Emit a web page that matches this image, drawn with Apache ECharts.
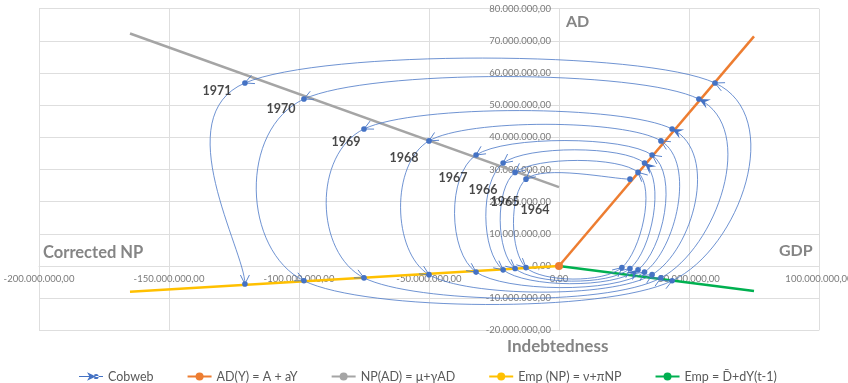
<!DOCTYPE html>
<html>
<head>
<meta charset="utf-8">
<script src="https://cdn.jsdelivr.net/npm/echarts@6/dist/echarts.min.js"></script>
<style>
  html, body { margin: 0; padding: 0; background: #ffffff; }
  #chart { width: 848px; height: 383px; }
</style>
</head>
<body>
<div id="chart"></div>
<script>
// ---- Data (values in currency units) ----
var years = [1964, 1965, 1966, 1967, 1968, 1969, 1970, 1971];
// GDP (Y) of each year, on the AD(Y) line
var gdp = [27.3e6, 30.4e6, 32.9e6, 35.8e6, 39.2e6, 43.5e6, 53.8e6, 60.0e6];
// Aggregate demand of each year
var ad = [27.0e6, 29.1e6, 32.0e6, 34.5e6, 38.9e6, 42.6e6, 51.9e6, 56.9e6];
// Corrected net position of each year
var np = [-12.7e6, -16.9e6, -21.5e6, -31.9e6, -50.0e6, -75.0e6, -98.1e6, -120.8e6];
// Indebtedness (Emp) of each year
var emp = [-0.5e6, -0.8e6, -1.2e6, -1.9e6, -2.7e6, -3.7e6, -4.6e6, -5.6e6];
// Previous-year GDP, Y(t-1), for 1964..1970
var gdpPrev = [24.2e6, 27.3e6, 30.4e6, 32.9e6, 35.8e6, 39.2e6, 43.5e6];

// Reference lines (two end points each)
var adLineY = [0, 75e6], adLineAD = [0, 71.4e6];
var npLineNP = [-165e6, 0], npLineAD = [72.3e6, 24.5e6];
var empNpLineNP = [-165e6, 0], empNpLineEmp = [-8.0e6, 0];
var empYLineY = [0, 75e6], empYLineEmp = [0, -7.8e6];

var xTicks = { min: -200e6, max: 100e6, step: 50e6 };
var yTicks = { min: -20e6, max: 80e6, step: 10e6 };

// ---- Cobweb path: AD(t) -> NP(t) -> Emp(t) -> [Y(t-1), Emp(t)] -> AD(t+1) ...
var path = [];
for (var t = 0; t < years.length; t++) {
  path.push([gdp[t], ad[t]]);
  path.push([np[t], ad[t]]);
  path.push([np[t], emp[t]]);
  if (t < gdpPrev.length) path.push([gdpPrev[t], emp[t]]);
}
// path indices whose incoming arrow is drawn as a filled head
var filledHeads = { 8: true, 11: true, 20: true, 24: true };

var BLUE = '#4472C4';
var CURVE = '#4a77c6';

function fmtNum(v) {
  var s = Math.abs(Math.round(v)).toString().replace(/\B(?=(\d{3})+(?!\d))/g, '.');
  return (v < 0 ? '-' : '') + s + ',00';
}

function pairs(xs, ys) {
  var out = [];
  for (var i = 0; i < xs.length; i++) out.push([xs[i], ys[i]]);
  return out;
}

// Smoothed segment (cubic Bezier, Catmull-Rom style tangents) ending at each path point
function renderCobweb(params, api) {
  var i = params.dataIndex, n = path.length;
  var P = function (k) { k = Math.max(0, Math.min(n - 1, k)); return api.coord(path[k]); };
  var cur = P(i);
  var children = [];
  if (i > 0) {
    var p0 = P(i - 2), p1 = P(i - 1), p3 = P(i + 1);
    var c1 = [p1[0] + (cur[0] - p0[0]) / 6, p1[1] + (cur[1] - p0[1]) / 6];
    var c2 = [cur[0] - (p3[0] - p1[0]) / 6, cur[1] - (p3[1] - p1[1]) / 6];
    children.push({
      type: 'bezierCurve',
      shape: { x1: p1[0], y1: p1[1], x2: cur[0], y2: cur[1],
               cpx1: c1[0], cpy1: c1[1], cpx2: c2[0], cpy2: c2[1] },
      style: { stroke: CURVE, lineWidth: 0.8, fill: 'none' }
    });
    var dx = cur[0] - c2[0], dy = cur[1] - c2[1];
    var len = Math.sqrt(dx * dx + dy * dy);
    if (len < 1e-6) { dx = cur[0] - p1[0]; dy = cur[1] - p1[1]; len = Math.sqrt(dx * dx + dy * dy) || 1; }
    dx /= len; dy /= len;
    var nx = -dy, ny = dx;
    if (filledHeads[i]) {
      var L = 11, W = 5;
      children.push({
        type: 'polygon',
        shape: { points: [
          [cur[0], cur[1]],
          [cur[0] - dx * L + nx * W, cur[1] - dy * L + ny * W],
          [cur[0] - dx * L * 0.6, cur[1] - dy * L * 0.6],
          [cur[0] - dx * L - nx * W, cur[1] - dy * L - ny * W]
        ] },
        style: { fill: BLUE }
      });
    } else {
      var L2 = 9, W2 = 4.5;
      children.push({
        type: 'polyline',
        shape: { points: [
          [cur[0] - dx * L2 + nx * W2, cur[1] - dy * L2 + ny * W2],
          [cur[0], cur[1]],
          [cur[0] - dx * L2 - nx * W2, cur[1] - dy * L2 - ny * W2]
        ] },
        style: { stroke: CURVE, lineWidth: 0.9, fill: 'none' }
      });
    }
  }
  children.push({ type: 'circle', shape: { cx: cur[0], cy: cur[1], r: 2.8 }, style: { fill: BLUE } });
  return { type: 'group', children: children };
}

// Year labels sit beside the NP(AD) points
var yearLabelOffsets = [[9, 31], [-10, 30], [-20, 27], [-23, 23], [-25, 17], [-18, 13], [-23, 10], [-28, 8]];
var yearPoints = years.map(function (y, t) {
  return {
    value: [np[t], ad[t]],
    label: { offset: yearLabelOffsets[t] }
  };
});

var FONT = 'Lato, "Noto Sans", sans-serif';
var TITLE_COLOR = '#858585';
var GRID_COLOR = '#dedede';
var GRID = { left: 39, top: 8.7, width: 780, height: 321.6 };

var chart = echarts.init(document.getElementById('chart'), null, { renderer: 'canvas' });
chart.setOption({
  animation: false,
  backgroundColor: '#ffffff',
  grid: { left: GRID.left, top: GRID.top, width: GRID.width, height: GRID.height,
          containLabel: false, outerBoundsMode: 'none' },
  xAxis: {
    type: 'value', position: 'bottom', min: xTicks.min, max: xTicks.max, interval: xTicks.step,
    axisLine: { show: true, onZero: false, lineStyle: { color: GRID_COLOR, width: 1 } },
    axisTick: { show: false },
    splitLine: { show: true, lineStyle: { color: GRID_COLOR, width: 1 } },
    axisLabel: { formatter: fmtNum, color: '#7a7a7a', fontSize: 9.5, fontFamily: FONT, margin: 8,
                 showMinLabel: true, showMaxLabel: true, hideOverlap: false }
  },
  yAxis: {
    type: 'value', position: 'left', min: yTicks.min, max: yTicks.max, interval: yTicks.step,
    axisLine: { show: true, onZero: false, lineStyle: { color: GRID_COLOR, width: 1 } },
    axisTick: { show: false },
    splitLine: { show: true, lineStyle: { color: GRID_COLOR, width: 1 } },
    axisLabel: { formatter: fmtNum, color: '#7a7a7a', fontSize: 9.5, fontFamily: FONT, margin: 8,
                 showMinLabel: true, showMaxLabel: true, hideOverlap: false }
  },
  legend: {
    left: 74, top: 365, itemGap: 33, itemWidth: 24, itemHeight: 10,
    textStyle: { color: '#595959', fontSize: 12.5, fontFamily: FONT },
    data: [
      { name: 'Cobweb', icon: 'path://M0 4.4L24 4.4L24 5.6L0 5.6Z M8 0.8L17 5L8 9.2L10.5 5Z M14.5 5A2.6 2.6 0 1 0 19.7 5A2.6 2.6 0 1 0 14.5 5Z' },
      'AD(Y) = A + aY',
      'NP(AD) = μ+γAD',
      'Emp (NP) = ν+πNP',
      'Emp = D\u0304+dY(t-1)'
    ]
  },
  graphic: [
    { type: 'text', left: 566, top: 14, style: { text: 'AD', fill: TITLE_COLOR, font: 'bold 16px ' + FONT } },
    { type: 'text', left: 779, top: 243, style: { text: 'GDP', fill: TITLE_COLOR, font: 'bold 16px ' + FONT } },
    { type: 'text', left: 43, top: 244, style: { text: 'Corrected NP', fill: TITLE_COLOR, font: 'bold 16.5px ' + FONT } },
    { type: 'text', left: 507, top: 338, style: { text: 'Indebtedness', fill: TITLE_COLOR, font: 'bold 17px ' + FONT } }
  ],
  series: [
    {
      name: 'NP(AD) = μ+γAD', type: 'line', data: pairs(npLineNP, npLineAD),
      symbol: 'none', lineStyle: { color: '#A5A5A5', width: 2.5 }, itemStyle: { color: '#A5A5A5' }, z: 2
    },
    {
      name: 'Emp (NP) = ν+πNP', type: 'line', data: pairs(empNpLineNP, empNpLineEmp),
      symbol: 'none', lineStyle: { color: '#FFC000', width: 2.5 }, itemStyle: { color: '#FFC000' }, z: 2
    },
    {
      name: 'Emp = D\u0304+dY(t-1)', type: 'line', data: pairs(empYLineY, empYLineEmp),
      symbol: 'none', lineStyle: { color: '#00B050', width: 2.5 }, itemStyle: { color: '#00B050' }, z: 2
    },
    {
      name: 'AD(Y) = A + aY', type: 'line',
      data: pairs(adLineY, adLineAD).map(function (p, k) { return k === 0 ? { value: p } : { value: p, symbol: 'none' }; }),
      symbol: 'circle', symbolSize: 8, showSymbol: true,
      lineStyle: { color: '#ED7D31', width: 2.5 }, itemStyle: { color: '#ED7D31' }, z: 2
    },
    {
      name: 'Cobweb', type: 'custom', coordinateSystem: 'cartesian2d',
      data: path, encode: { x: 0, y: 1 }, renderItem: renderCobweb,
      itemStyle: { color: BLUE }, z: 3, silent: true
    },
    {
      name: 'years', type: 'scatter', data: yearPoints,
      symbolSize: 1, itemStyle: { color: 'rgba(0,0,0,0)' }, z: 4, silent: true,
      label: {
        show: true, position: 'inside',
        formatter: function (p) { return String(years[p.dataIndex]); },
        color: '#1a1a1a', fontSize: 12.5, fontWeight: 'bold', fontFamily: FONT
      }
    }
  ]
});

// Move both axes (line and labels) onto the origin of the other axis
var origin = chart.convertToPixel({ gridIndex: 0 }, [0, 0]);
chart.setOption({
  xAxis: { offset: origin[1] - (GRID.top + GRID.height) },
  yAxis: { offset: GRID.left - origin[0] }
});
</script>
</body>
</html>
